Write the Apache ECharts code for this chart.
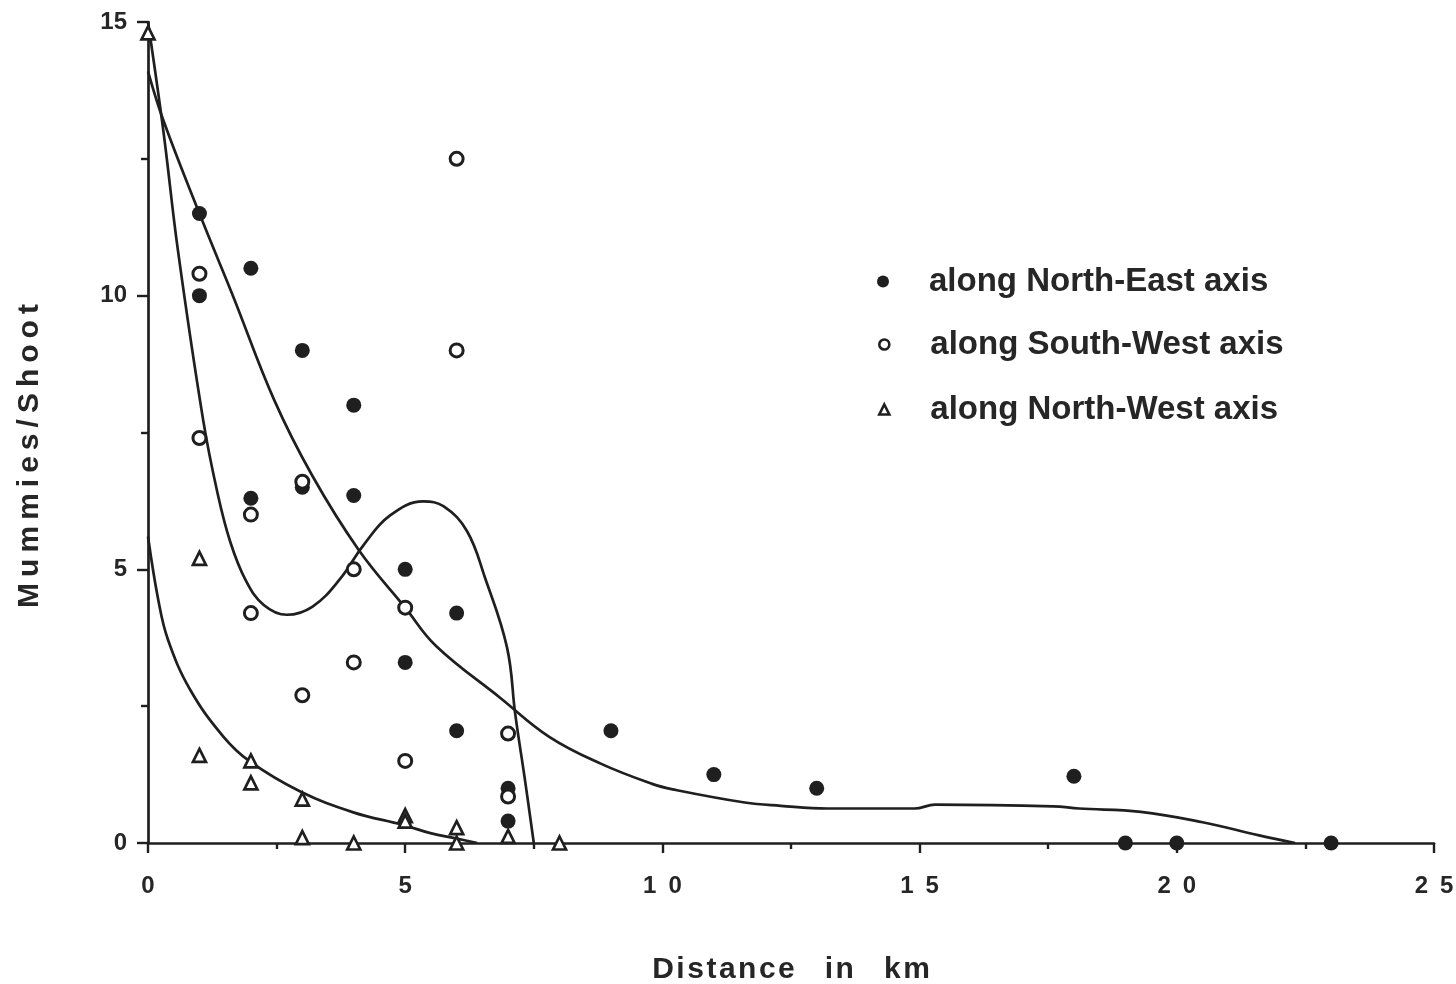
<!DOCTYPE html>
<html>
<head>
<meta charset="utf-8">
<script src="https://cdn.jsdelivr.net/npm/echarts@6/dist/echarts.min.js"></script>
<style>
  html, body { margin: 0; padding: 0; background: #fff; }
  #chart { width: 1456px; height: 984px; }
</style>
</head>
<body>
<div id="chart"></div>
<script>
// Mummy counts per shoot at increasing distance from the release point
const xTicks = [0, 5, 10, 15, 20, 25];
const yTicks = [0, 5, 10, 15];

// Observed points [distance km, mummies/shoot]
const northEast = [
  [1, 11.5], [1, 10], [2, 10.5], [2, 6.3], [3, 9], [3, 6.5], [4, 8], [4, 6.35],
  [5, 5], [5, 3.3], [6, 4.2], [6, 2.05], [7, 1.0], [7, 0.4], [9, 2.05],
  [11, 1.25], [13, 1.0], [18, 1.22], [19, 0], [20, 0], [23, 0]
];
const southWest = [
  [1, 10.4], [1, 7.4], [2, 6.0], [2, 4.2], [3, 6.6], [3, 2.7], [4, 5.0], [4, 3.3],
  [5, 4.3], [5, 1.5], [6, 12.5], [6, 9.0], [7, 2.0], [7, 0.85]
];
const northWest = [
  [0, 14.8], [1, 5.2], [1, 1.6], [2, 1.5], [2, 1.1], [3, 0.8], [3, 0.1], [4, 0],
  [5, 0.5], [5, 0.4], [6, 0.28], [6, 0], [7, 0.12], [8, 0]
];

// Fitted trend curves
const northEastFit = [
  [0, 14.1], [0.3, 13.2], [1, 11.5], [1.65, 10.0], [2.45, 8.1], [3.2, 6.7],
  [4.1, 5.35], [5, 4.3], [5.6, 3.6], [6.85, 2.65], [7.8, 1.94], [8.8, 1.45],
  [9.8, 1.08], [10.2, 0.98], [11.6, 0.74], [12.3, 0.68], [13.2, 0.63],
  [14.9, 0.63], [15.3, 0.7], [17.6, 0.67], [18.1, 0.63], [19.3, 0.57],
  [20.5, 0.38], [21.6, 0.14], [22.3, 0]
];
const southWestFit = [
  [0, 15], [0.3, 13.0], [0.58, 10.84], [1.07, 7.74], [1.35, 6.4], [1.6, 5.5],
  [1.9, 4.8], [2.25, 4.35], [2.7, 4.17], [3.2, 4.32], [3.73, 4.82], [4.18, 5.43],
  [4.7, 5.98], [5.35, 6.24], [5.75, 6.15], [6.2, 5.7], [6.55, 4.85],
  [6.98, 3.57], [7.14, 2.35], [7.33, 1.14], [7.5, 0]
];
const northWestFit = [
  [0, 5.6], [0.2, 4.44], [0.39, 3.71], [0.82, 2.8], [1.46, 1.95], [1.98, 1.49],
  [2.96, 0.94], [3.99, 0.56], [4.96, 0.33], [5.49, 0.18], [6.0, 0.08], [6.4, 0]
];

const seriesNames = ['along North-East axis', 'along South-West axis', 'along North-West axis'];

const INK = '#1f1f1f';
const TEXT = '#262626';
const FONT = '"Liberation Sans", Arial, Helvetica, sans-serif';

// spread letters with thin spaces for the typeset look of the titles
const spaced = (s, gap) => s.split('').join(gap);

const chart = echarts.init(document.getElementById('chart'), null, { renderer: 'canvas' });

function fitLine(data) {
  return {
    type: 'line',
    data: data,
    smooth: 0.4,
    showSymbol: false,
    symbol: 'none',
    lineStyle: { color: INK, width: 2.7 },
    silent: true,
    z: 2
  };
}

function legendFor(name, left, top, icon, size, textGap, itemStyle) {
  return {
    show: true,
    left: left,
    top: top,
    padding: 0,
    orient: 'vertical',
    selectedMode: false,
    itemWidth: size,
    itemHeight: size,
    data: [{ name: name, icon: icon, itemStyle: itemStyle }],
    textStyle: {
      fontFamily: FONT, fontSize: 33, fontWeight: 'bold', color: TEXT,
      padding: [0, 0, 0, textGap]
    }
  };
}

chart.setOption({
  animation: false,
  backgroundColor: '#fff',
  grid: { left: 148, right: 22, top: 22, bottom: 141, containLabel: false, outerBoundsMode: 'none' },
  xAxis: {
    type: 'value',
    min: xTicks[0],
    max: xTicks[xTicks.length - 1],
    interval: 5,
    axisLine: { show: true, onZero: false, lineStyle: { color: INK, width: 2.7 } },
    axisTick: { show: true, length: 10, lineStyle: { color: INK, width: 2.4 } },
    minorTick: { show: true, splitNumber: 2, length: 6, lineStyle: { color: INK, width: 2.4 } },
    splitLine: { show: false },
    axisLabel: {
      margin: 31,
      fontFamily: FONT, fontSize: 24, fontWeight: 'bold', color: TEXT,
      formatter: v => xTicks.includes(v) ? String(v).split('').join('\u2002') : ''
    },
    name: spaced('Distance', '\u200A') + '\u2002\u2002' + spaced('in', '\u200A') + '\u2002\u2002' + spaced('km', '\u200A'),
    nameLocation: 'middle',
    nameGap: 112,
    nameTextStyle: { fontFamily: FONT, fontSize: 30, fontWeight: 'bold', color: TEXT }
  },
  yAxis: {
    type: 'value',
    min: yTicks[0],
    max: yTicks[yTicks.length - 1],
    interval: 5,
    axisLine: { show: true, onZero: false, lineStyle: { color: INK, width: 2.7 } },
    axisTick: { show: true, length: 11, lineStyle: { color: INK, width: 2.4 } },
    minorTick: { show: true, splitNumber: 2, length: 7, lineStyle: { color: INK, width: 2.4 } },
    splitLine: { show: false },
    axisLabel: {
      margin: 21,
      fontFamily: FONT, fontSize: 24, fontWeight: 'bold', color: TEXT,
      formatter: v => yTicks.includes(v) ? String(v) : ''
    }
  },
  graphic: [{
    type: 'text',
    x: 30,
    y: 456,
    rotation: Math.PI / 2,
    style: {
      text: spaced('Mummies/Shoot', '\u2009'),
      fontFamily: FONT, fontSize: 30, fontWeight: 'bold', fill: TEXT,
      align: 'center', verticalAlign: 'middle'
    }
  }],
  legend: [
    legendFor(seriesNames[0], 877, 265, 'circle', 12, 35, { color: INK, borderWidth: 0 }),
    legendFor(seriesNames[1], 878, 328, 'circle', 10, 36, { color: '#fff', borderColor: INK, borderWidth: 2.6 }),
    legendFor(seriesNames[2], 878, 393, 'triangle', 10, 36, { color: '#fff', borderColor: INK, borderWidth: 2.6 })
  ],
  series: [
    fitLine(northEastFit),
    fitLine(southWestFit),
    fitLine(northWestFit),
    {
      name: seriesNames[0],
      type: 'scatter',
      data: northEast,
      symbol: 'circle',
      symbolSize: 15,
      itemStyle: { color: INK, opacity: 1 },
      z: 5
    },
    {
      name: seriesNames[1],
      type: 'scatter',
      data: southWest,
      symbol: 'circle',
      symbolSize: 13,
      itemStyle: { color: '#fff', borderColor: INK, borderWidth: 3, opacity: 1 },
      z: 6
    },
    {
      name: seriesNames[2],
      type: 'scatter',
      data: northWest,
      symbol: 'triangle',
      symbolSize: 13,
      itemStyle: { color: '#fff', borderColor: INK, borderWidth: 2.7, opacity: 1 },
      z: 7
    }
  ]
});
</script>
</body>
</html>
